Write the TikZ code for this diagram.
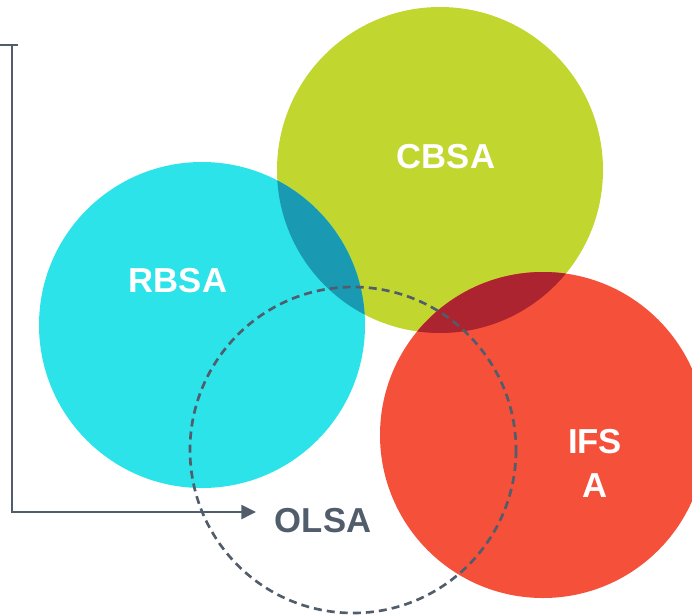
\documentclass[tikz,border=0pt]{standalone}
\usepackage{fontspec}
\setmainfont{Liberation Sans}
\usepackage{xcolor}
\usetikzlibrary{arrows.meta}

\definecolor{rbsacol}{HTML}{2BE3E9}
\definecolor{cbsacol}{HTML}{C1D72F}
\definecolor{ifsacol}{HTML}{F4503A}
\definecolor{rbcbcol}{HTML}{1A99B3}
\definecolor{cbifcol}{HTML}{AC2430}
\definecolor{axiscol}{HTML}{525D6B}

\begin{document}
\begin{tikzpicture}[
    x=0.75pt, y=-0.75pt,
    font=\bfseries\fontsize{26}{33}\selectfont,
    lbl/.style={text=white, align=center, inner sep=0pt},
    axis/.style={draw=axiscol, line width=1.8pt},
    arrow/.style={axis, -{Triangle[length=11pt, width=10.5pt]}},
    olsa/.style={draw=axiscol, line width=2pt, dash pattern=on 6pt off 3.8pt}
]
\useasboundingbox (0,0) rectangle (692,615);

% circle centres
\coordinate (rbsa) at (202,325);
\coordinate (cbsa) at (440,170);
\coordinate (ifsa) at (543,435);
\coordinate (olsa) at (353,450);
\def\rad{163}

\fill[cbsacol] (cbsa) circle (\rad);
\fill[rbsacol] (rbsa) circle (\rad);
\fill[ifsacol] (ifsa) circle (\rad);

% overlaps
\begin{scope}
    \clip (rbsa) circle (\rad);
    \fill[rbcbcol] (cbsa) circle (\rad);
\end{scope}
\begin{scope}
    \clip (ifsa) circle (\rad);
    \fill[cbifcol] (cbsa) circle (\rad);
\end{scope}

\draw[olsa] (olsa) circle (\rad);

\node[lbl] (rbsalbl) at (178,281) {RBSA};
\node[lbl] (cbsalbl) at (446,157) {CBSA};
\node[lbl] (ifsalbl) at (595,463) {IFS\\A};

% axes
\coordinate (tickl) at (0,45);
\coordinate (top) at (12,45);
\coordinate (origin) at (12,512);
\coordinate (xend) at (256,512);
\draw[axis] (tickl) -- (top) -- ++(6,0);
\draw[arrow] (top) -- (origin) -- (xend);
\node[text=axiscol, inner sep=0pt] (olsalbl) at (323,521) {OLSA};
\end{tikzpicture}
\end{document}
